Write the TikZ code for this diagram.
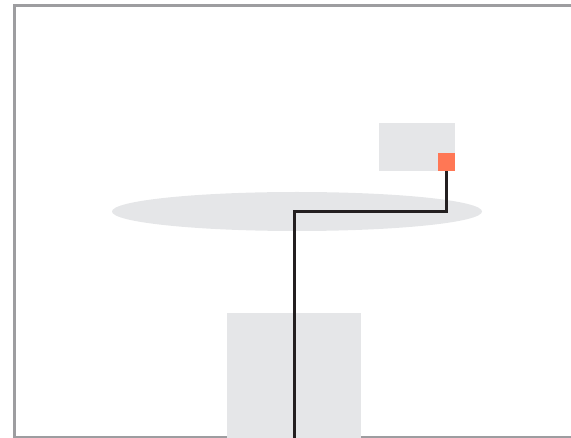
\documentclass[tikz,border=0pt]{standalone}
\usetikzlibrary{shapes.geometric}
\definecolor{fond}{HTML}{E5E6E8}
\definecolor{cadre}{HTML}{9D9DA0}
\definecolor{corail}{HTML}{FF7755}
\definecolor{fil}{HTML}{231F20}
\tikzset{
  bloc/.style={fill=fond, draw=none, inner sep=0pt, anchor=north west},
  plot/.style={fill=corail, draw=none, inner sep=0pt, anchor=north west, minimum width=17pt, minimum height=18pt},
  liaison/.style={draw=fil, line width=3pt, line cap=butt, line join=miter}
}
\begin{document}
\begin{tikzpicture}[x=1pt,y=-1pt]
			\useasboundingbox (0,0) rectangle (571,438);
			\begin{scope}
			\clip (0,0) rectangle (571,438);
			% Cadre
			\draw[cadre, line width=3pt] (14.5,5.2) rectangle (580,437.4);
			% Plateau
			\node[ellipse, fill=fond, draw=none, inner sep=0pt, minimum width=370pt, minimum height=39pt] (plateau) at (297,211.5) {};
			% Socle et capteur
			\node[bloc, minimum width=134pt, minimum height=130pt] (socle) at (227,313) {};
			\node[bloc, minimum width=76pt, minimum height=48pt] (capteur) at (379,123) {};
			\node[plot] (borne) at (438,153) {};
			% Cable
			\coordinate (sortie) at (294,440);
			\draw[liaison] (borne.south) |- (plateau.center -| sortie) -- (sortie);
			\end{scope}
	\end{tikzpicture}
\end{document}
